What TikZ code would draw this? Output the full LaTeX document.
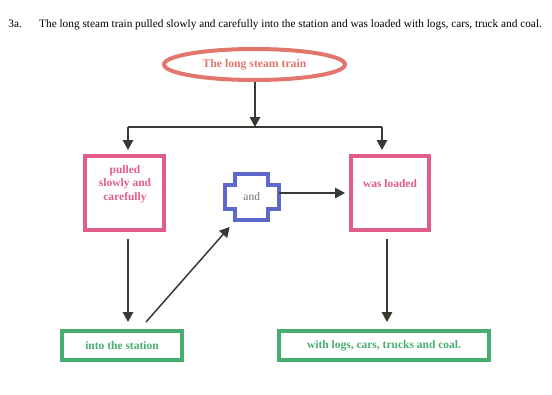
\documentclass[tikz,border=0pt]{standalone}
\usepackage{fontspec}
\setmainfont{Liberation Serif}
\usetikzlibrary{shapes.geometric,arrows.meta}
\definecolor{salmon}{RGB}{226,118,108}
\definecolor{pinkc}{RGB}{226,92,136}
\definecolor{greenc}{RGB}{72,174,112}
\definecolor{bluec}{RGB}{92,104,204}
\definecolor{arrowc}{RGB}{52,60,50}
\definecolor{andc}{RGB}{110,110,110}
\tikzset{
  arr/.style={draw=arrowc, line width=1.5pt, -{Triangle[length=10pt,width=10.5pt]}},
  lin/.style={draw=arrowc, line width=1.5pt},
  pinkbox/.style={draw=pinkc, line width=4pt, rectangle, inner sep=0pt},
  greenbox/.style={draw=greenc, line width=4pt, rectangle, inner sep=0pt, font=\fontsize{11.5}{12}\selectfont\bfseries, text=greenc},
  pinktext/.style={font=\fontsize{11.5}{13.5}\selectfont\bfseries, text=pinkc, align=center, inner sep=0pt},
  titletext/.style={font=\fontsize{11.3}{12}\selectfont, inner sep=0pt, anchor=base west},
}
\begin{document}
\begin{tikzpicture}[x=1pt,y=-1pt]
\useasboundingbox (0,0) rectangle (552,394);
% title
\node[titletext] (num) at (8.3,27) {3a.};
\node[titletext] (sent) at (39,27) {The long steam train pulled slowly and carefully into the station and was loaded with logs, cars, truck and coal.};
% ellipse
\node[ellipse, draw=salmon, line width=4pt, minimum width=181pt, minimum height=31pt, inner sep=0pt,
      font=\fontsize{11.7}{12}\selectfont\bfseries, text=salmon] (train) at (254.5,64.5) {The long steam train};
% boxes
\node[pinkbox, minimum width=79pt, minimum height=74pt] (pulled) at (124.5,193) {};
\node[pinktext] (pulledt) at (125,184) {pulled\\slowly and\\carefully};
\node[pinkbox, minimum width=78pt, minimum height=74pt] (loaded) at (390,193) {};
\node[pinktext] (loadedt) at (390,184) {was loaded};
\node[greenbox, minimum width=120pt, minimum height=29pt] (station) at (122,345.5) {into the station};
\node[greenbox, minimum width=210pt, minimum height=29pt] (coal) at (384,345.5) {with logs, cars, trucks and coal.};
% and cross
\node[inner sep=0pt, minimum width=54pt, minimum height=45.4pt, font=\fontsize{11.5}{12}\selectfont, text=andc] (andn) at (251.7,197) {and};
\draw[bluec, line width=4pt, line join=miter]
  (235,174.3) -- (268,174.3) -- (268,185.3) -- (278.7,185.3) -- (278.7,208.7) -- (268,208.7)
  -- (268,219.7) -- (235,219.7) -- (235,208.7) -- (224.7,208.7) -- (224.7,185.3) -- (235,185.3) -- cycle;
% connectors
\coordinate (j) at (255,127);
\coordinate (jl) at (128,127);
\coordinate (jr) at (382,127);
\coordinate (xl) at (128,0);
\coordinate (xr) at (387,0);
\draw[arr] (train.south -| j) -- (j);
\draw[lin] (jl) -- (jr);
\draw[arr] (jl) -- (128,150) coordinate (pl);
\draw[arr] (jr) -- (382,150) coordinate (pr);
\draw[arr] ([yshift=-7pt]pulled.south -| xl) -- ([yshift=7pt]station.north -| xl);
\draw[arr] ([yshift=-7pt]loaded.south -| xr) -- ([yshift=7pt]coal.north -| xr);
\draw[arr] (andn.east |- loaded.west) -- ([xshift=-4pt]loaded.west);
\draw[arr] ([xshift=24pt,yshift=7pt]station.north) -- ([xshift=-22pt,yshift=-7pt]andn.south);
\end{tikzpicture}
\end{document}
